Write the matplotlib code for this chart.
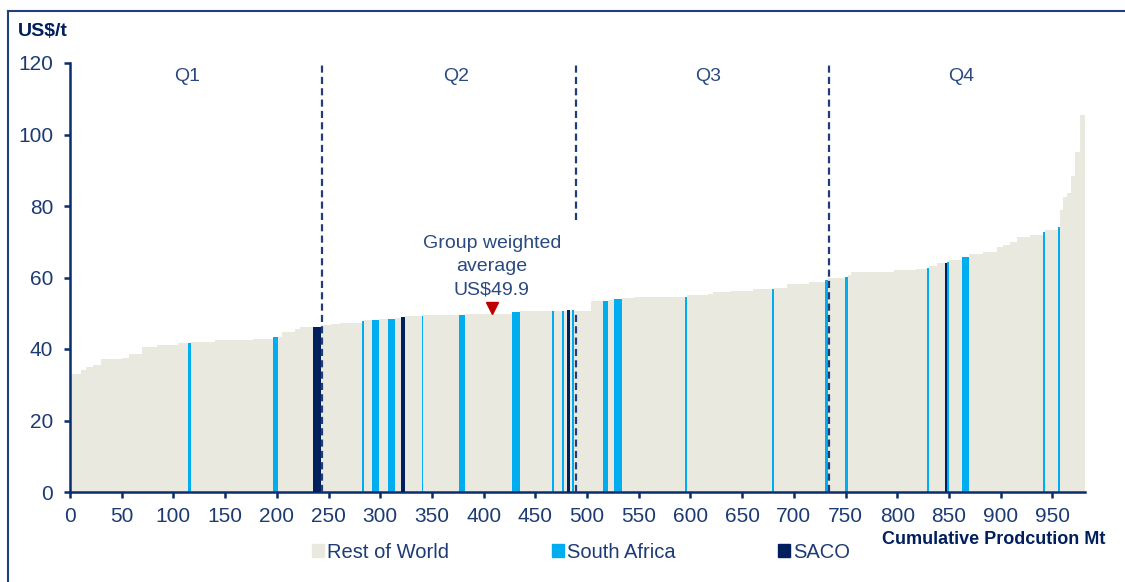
import matplotlib
matplotlib.use("Agg")
import matplotlib.pyplot as plt
from matplotlib.patches import Patch
from matplotlib.lines import Line2D

plt.rcParams['font.family'] = ['Liberation Sans', 'DejaVu Sans']

# cost curve, rest of world: segment edges (cumulative Mt) and cash cost (US$/t)
row_edges = [0, 10.6, 15.5, 22.2, 30, 50, 57, 69.3, 83.8, 104.6, 116.7, 140.1,
             177.1, 200.7, 205.5, 217.4, 222.2, 235.1, 243.2, 252, 261, 284.3,
             298.5, 314.3, 324.3, 341.6, 382.3, 427.1, 435.2, 503.6, 520.6,
             526.2, 533.7, 545, 597, 617, 622, 638, 661, 680.5, 693, 715,
             733.4, 752.7, 755.3, 790.6, 796.9, 817.8, 830.4, 838.1, 850.1,
             869.2, 883.4, 896.3, 902.7, 909.2, 915.6, 928.5, 943.2, 957.4,
             960.6, 964.5, 967.7, 971.9, 976.7, 981.6]
row_cost = [33.0, 34.0, 35.0, 35.6, 37.2, 37.6, 38.5, 40.6, 41.0, 41.6, 41.9,
            42.5, 42.8, 43.4, 44.8, 45.5, 46.2, 46.2, 46.6, 47.0, 47.4, 48.0,
            48.3, 48.7, 49.2, 49.4, 49.7, 50.3, 50.6, 53.5, 53.7, 54.0, 54.4,
            54.6, 55.2, 55.4, 55.9, 56.3, 56.7, 57.2, 58.2, 58.7, 60.0, 60.7,
            61.4, 61.6, 62.1, 62.4, 63.2, 64.0, 64.9, 66.6, 67.2, 68.4, 69.1,
            70.0, 71.4, 71.9, 73.3, 79.0, 82.6, 83.6, 88.5, 95.0, 105.5]

# South African mines: start (cumulative Mt), volume (Mt), cost
sa_start = [113.7, 196.4, 282.0, 291.8, 307.9, 340.1, 376.5, 427.1, 466.4,
            476.1, 485.8, 515.0, 526.2, 595.0, 678.6, 730.2, 749.5, 828.5,
            848.5, 862.7, 941.3, 955.2]
sa_volume = [3.0, 4.3, 2.3, 6.7, 6.4, 1.5, 5.8, 8.1, 1.7, 1.6, 1.6, 5.6, 7.5,
             2.0, 1.9, 3.2, 3.2, 1.9, 1.6, 6.5, 1.9, 2.2]
sa_cost = [41.6, 43.3, 47.8, 48.0, 48.5, 49.2, 49.5, 50.3, 50.6, 50.6, 50.8,
           53.5, 54.0, 54.6, 56.8, 59.2, 60.2, 62.6, 64.3, 65.8, 72.8, 74.2]

# SACO operations
saco_start = [235.1, 320.1, 480.3, 846.2]
saco_volume = [8.1, 4.2, 3.2, 2.3]
saco_cost = [46.2, 48.9, 50.8, 64.0]

quartile_edges = [244, 489, 734]
quartile_names = ['Q1', 'Q2', 'Q3', 'Q4']
quartile_label_x = [113, 373, 617, 862]

avg_x = 408
avg_cost = 49.9

x_ticks = list(range(0, 1000, 50))
y_ticks = list(range(0, 140, 20))

NAVY = '#0B2D6B'
TEXT = '#1C3B73'
ROW = '#EAE9DF'
SA = '#00AEEF'
SACO_C = '#001F5C'

fig = plt.figure(figsize=(11.25, 5.82), dpi=100)
ax = fig.add_axes([70 / 1125, 1 - 492 / 582, 1015 / 1125, 429 / 582])

widths = [b - a for a, b in zip(row_edges[:-1], row_edges[1:])]
ax.bar(row_edges[:-1], row_cost, width=widths, align='edge', color=ROW,
       linewidth=0, zorder=1)
ax.bar(sa_start, sa_cost, width=sa_volume, align='edge', color=SA,
       linewidth=0, zorder=2)
ax.bar(saco_start, saco_cost, width=saco_volume, align='edge', color=SACO_C,
       linewidth=0, zorder=3)

# quartile separators
dash = dict(color='#1F3D7A', lw=1.6, ls=(0, (3.2, 1.9)), zorder=4)
ax.vlines(quartile_edges[0], 0, 119.5, **dash)
ax.vlines(quartile_edges[1], 0, 50.6, **dash)
ax.vlines(quartile_edges[1], 76, 119.5, **dash)
ax.vlines(quartile_edges[2], 0, 119.5, **dash)
for name, qx in zip(quartile_names, quartile_label_x):
    ax.text(qx, 116.2, name, ha='center', va='center', fontsize=14,
            color='#2A4A7F')

# weighted average marker
ax.plot([avg_x], [avg_cost + 1.6], marker='v', color='#C00000',
        markersize=9, linestyle='none', zorder=5)
ax.text(avg_x, 63.0, 'Group weighted\naverage\nUS$%.1f' % avg_cost,
        ha='center', va='center', fontsize=14, color='#2A4A7F',
        linespacing=1.45)

ax.set_xlim(0, row_edges[-1])
ax.set_ylim(0, 120)
ax.set_xticks(x_ticks)
ax.set_yticks(y_ticks)
for side in ('top', 'right'):
    ax.spines[side].set_visible(False)
for side in ('left', 'bottom'):
    ax.spines[side].set_color(NAVY)
    ax.spines[side].set_linewidth(1.8)
ax.tick_params(colors=NAVY, labelcolor=TEXT, labelsize=15, length=4,
               width=1.8)
ax.tick_params(axis='y', pad=8)
ax.tick_params(axis='x', pad=7)

handles = [Patch(color=ROW, label='Rest of World'),
           Patch(color=SA, label='South Africa'),
           Patch(color=SACO_C, label='SACO')]
fig.legend(handles=handles, loc='center left',
           bbox_to_anchor=(312 / 1125, 1 - 552 / 582), ncol=3, frameon=False,
           fontsize=14.5, handlelength=0.6, handleheight=0.6,
           handletextpad=0.15, columnspacing=5.1, borderpad=0,
           borderaxespad=0, labelcolor=TEXT)

fig.text(18 / 1125, 1 - 32 / 582, 'US$/t', fontsize=14, fontweight='bold',
         color=SACO_C, ha='left', va='center')
fig.text(882 / 1125, 1 - 540 / 582, 'Cumulative Prodcution Mt',
         fontsize=13, fontweight='bold', color=SACO_C, ha='left', va='center')

# frame around the slide area
fig.add_artist(Line2D([8 / 1125, 1], [1 - 11 / 582] * 2, color='#1F3F7F',
                      lw=1.5, transform=fig.transFigure))
fig.add_artist(Line2D([8 / 1125] * 2, [0, 1 - 11 / 582], color='#1F3F7F',
                      lw=1.5, transform=fig.transFigure))

fig.savefig('out.png', dpi=100)
